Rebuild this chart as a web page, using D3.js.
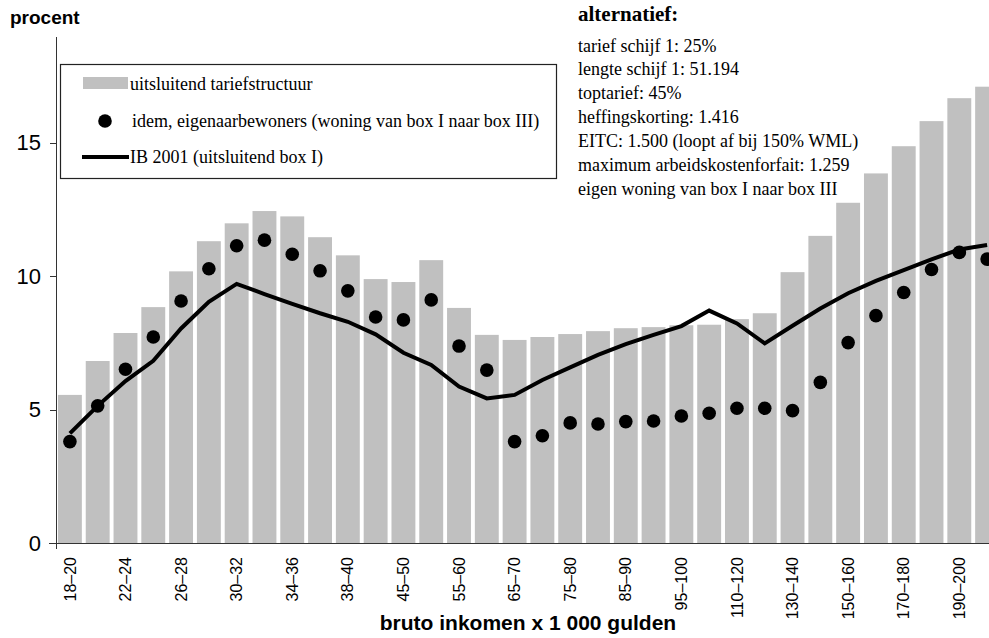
<!DOCTYPE html>
<html>
<head>
<meta charset="utf-8">
<title>Tariefstructuur alternatief</title>
<style>
    body { margin: 0; background: #fff; }
    svg { display: block; }
    .axis path, .axis line { stroke: #333; shape-rendering: crispEdges; }
    .axis text { font-family: "Liberation Sans", Arial, sans-serif; fill: #000; }
    .legend text, .note text { font-family: "Liberation Serif", "Times New Roman", serif; font-size: 18px; fill: #000; }
    .title { font-family: "Liberation Sans", Arial, sans-serif; font-weight: bold; fill: #000; }
</style>
</head>
<body>
<svg width="989" height="638"></svg>
<script src="https://d3js.org/d3.v7.min.js"></script>
<script>
// inkomensklassen (x 1 000 gulden)
const categories = ["18–20","20–22","22–24","24–26","26–28","28–30","30–32","32–34","34–36","36–38",
    "38–40","40–45","45–50","50–55","55–60","60–65","65–70","70–75","75–80","80–85",
    "85–90","90–95","95–100","100–110","110–120","120–130","130–140","140–150","150–160","160–170",
    "170–180","180–190","190–200","200–250"];

// uitsluitend tariefstructuur (bars)
const tariefstructuur = [5.55, 6.82, 7.87, 8.84, 10.18, 11.31, 11.98, 12.44, 12.24, 11.46,
    10.78, 9.89, 9.78, 10.6, 8.81, 7.8, 7.61, 7.72, 7.83, 7.94,
    8.05, 8.09, 8.16, 8.18, 8.39, 8.61, 10.15, 11.51, 12.75, 13.85,
    14.87, 15.81, 16.67, 17.1];

// idem, eigenaarbewoners (dots)
const eigenaarbewoners = [3.8, 5.14, 6.51, 7.72, 9.07, 10.28, 11.14, 11.35, 10.82, 10.2,
    9.45, 8.47, 8.36, 9.11, 7.38, 6.48, 3.8, 4.02, 4.5, 4.46,
    4.55, 4.57, 4.76, 4.86, 5.05, 5.05, 4.96, 6.02, 7.51, 8.52,
    9.39, 10.25, 10.89, 10.64];

// IB 2001, uitsluitend box I (line)
const ib2001 = [4.11, 5.14, 6.07, 6.83, 8.04, 9.04, 9.71, 9.33, 8.96, 8.61,
    8.29, 7.82, 7.13, 6.67, 5.86, 5.42, 5.55, 6.11, 6.58, 7.05,
    7.45, 7.8, 8.13, 8.71, 8.23, 7.48, 8.14, 8.79, 9.36, 9.82,
    10.23, 10.63, 11.0, 11.17];

const yTicks = [0, 5, 10, 15];

const legendLabels = [
    "uitsluitend tariefstructuur",
    "idem, eigenaarbewoners (woning van box I naar box III)",
    "IB 2001 (uitsluitend box I)"
];

const noteTitle = "alternatief:";
const noteLines = [
    "tarief schijf 1: 25%",
    "lengte schijf 1: 51.194",
    "toptarief: 45%",
    "heffingskorting: 1.416",
    "EITC: 1.500 (loopt af bij 150% WML)",
    "maximum arbeidskostenforfait: 1.259",
    "eigen woning van box I naar box III"
];

let svg = d3.select('svg');
let width = +svg.attr('width');

// plot runs off the right edge, like the original
let x = d3.scaleBand()
    .domain(categories)
    .range([56, 1001])
    .paddingInner(0.14)
    .paddingOuter(0.07);

let y = d3.scaleLinear()
    .domain([0, 19])
    .range([543, 36]);

let cx = d => x(d) + x.bandwidth() / 2;

// bars
svg.append('g')
    .selectAll('rect')
    .data(categories)
    .join('rect')
        .attr('x', d => x(d))
        .attr('y', (d, i) => y(tariefstructuur[i]))
        .attr('width', x.bandwidth())
        .attr('height', (d, i) => y(0) - y(tariefstructuur[i]))
        .attr('fill', '#c0c0c0');

// IB 2001 line
let line = d3.line()
    .x((d, i) => cx(categories[i]))
    .y(d => y(d));

svg.append('path')
    .datum(ib2001)
    .attr('d', line)
    .attr('fill', 'none')
    .attr('stroke', '#000')
    .attr('stroke-width', 4)
    .attr('stroke-linejoin', 'miter');

// eigenaarbewoners dots
svg.append('g')
    .selectAll('circle')
    .data(eigenaarbewoners)
    .join('circle')
        .attr('cx', (d, i) => cx(categories[i]))
        .attr('cy', d => y(d))
        .attr('r', 6.8)
        .attr('fill', '#000');

// y axis
let yAxis = svg.append('g')
    .attr('class', 'axis')
    .attr('transform', 'translate(56,0)')
    .call(d3.axisLeft(y).tickValues(yTicks).tickSize(6).tickSizeOuter(0).tickPadding(9));
yAxis.selectAll('text').style('font-size', '22px');
// little overshoot under the zero line
svg.append('line')
    .attr('x1', 56.5).attr('x2', 56.5)
    .attr('y1', y(0)).attr('y2', y(0) + 6)
    .attr('stroke', '#333');

// x axis
let xAxis = svg.append('g')
    .attr('class', 'axis')
    .attr('transform', `translate(0,${y(0)})`)
    .call(d3.axisBottom(x)
        .tickValues(categories.filter((d, i) => i % 2 === 0))
        .tickSize(0));
xAxis.select('.domain').remove();
xAxis.selectAll('text')
    .attr('transform', 'rotate(-90)')
    .attr('x', -14)
    .attr('y', 0)
    .attr('dy', '0.35em')
    .style('text-anchor', 'end')
    .style('font-size', '16px');
svg.append('line')
    .attr('x1', 49).attr('x2', width)
    .attr('y1', y(0) + 0.5).attr('y2', y(0) + 0.5)
    .attr('stroke', '#333');

// axis titles
svg.append('text')
    .attr('class', 'title')
    .attr('x', 10).attr('y', 24)
    .style('font-size', '19px')
    .text('procent');

svg.append('text')
    .attr('class', 'title')
    .attr('x', 528).attr('y', 630)
    .attr('text-anchor', 'middle')
    .style('font-size', '21px')
    .text('bruto inkomen x 1 000 gulden');

// legend
let legend = svg.append('g').attr('class', 'legend');
legend.append('rect')
    .attr('x', 60.5).attr('y', 64.5)
    .attr('width', 496).attr('height', 114)
    .attr('fill', '#fff')
    .attr('stroke', '#222')
    .attr('stroke-width', 1.2);
legend.append('rect')
    .attr('x', 83).attr('y', 77)
    .attr('width', 45).attr('height', 12)
    .attr('fill', '#c0c0c0');
legend.append('circle')
    .attr('cx', 105).attr('cy', 121)
    .attr('r', 6.8)
    .attr('fill', '#000');
legend.append('line')
    .attr('x1', 82).attr('x2', 129)
    .attr('y1', 157).attr('y2', 157)
    .attr('stroke', '#000')
    .attr('stroke-width', 4);
legend.selectAll('text')
    .data(legendLabels)
    .join('text')
        .attr('x', (d, i) => i === 1 ? 132 : 130)
        .attr('y', (d, i) => [90, 127, 163][i])
        .text(d => d);

// note block with the alternative
let note = svg.append('g').attr('class', 'note');
note.append('text')
    .attr('x', 578).attr('y', 21)
    .style('font-size', '21px')
    .style('font-weight', 'bold')
    .text(noteTitle);
note.selectAll('text.line')
    .data(noteLines)
    .join('text')
        .attr('class', 'line')
        .attr('x', 578)
        .attr('y', (d, i) => 51.5 + i * 23.9)
        .text(d => d);
</script>
</body>
</html>
